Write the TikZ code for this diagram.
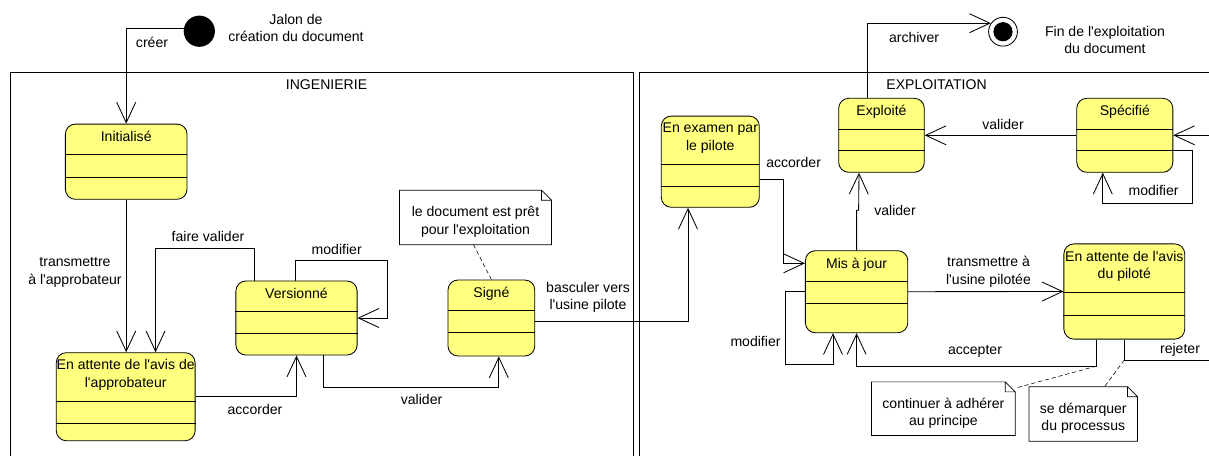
\documentclass[tikz,border=0pt]{standalone}
\usepackage{fontspec}
\setmainfont{Liberation Sans}
\usetikzlibrary{calc}
\usetikzlibrary{arrows.meta}
\definecolor{stateyellow}{HTML}{FFFF80}
\newcommand{\sq}{\textquotesingle}

\begin{document}
\begin{tikzpicture}[x=0.025cm, y=-0.025cm,
        font=\fontsize{10}{12.4}\selectfont, line width=0.6pt,
        state/.style={draw, fill=stateyellow, rounded corners=0.25cm, inner sep=0pt},
        title/.style={anchor=north, align=center, inner sep=0pt, yshift=-5pt},
        notebox/.style={inner sep=0pt},
        notetext/.style={anchor=center, align=center, inner sep=0pt, yshift=-3.2pt},
        lbl/.style={align=center, inner sep=1pt},
        trans/.style={-{Straight Barb[length=14.5pt, width=13.5pt]}},
        notelink/.style={densely dashed, line width=0.4pt}]
    \useasboundingbox (0,0) rectangle (1209,455);
    \clip (0,0) rectangle (1209,455);

    % partitions
    \draw (10.2,72.7) rectangle (633,470);
    \draw (639,72.7) rectangle (1230,470);
    \node[lbl] (ing) at (326.5,84.3) {INGENIERIE};
    \node[lbl] (exp) at (936.5,84.3) {EXPLOITATION};

    % start and end
    \node[circle, fill=black, minimum size=0.78cm, inner sep=0pt] (start) at (199.3,31.2) {};
    \node[circle, draw, minimum size=0.72cm, inner sep=0pt,
        path picture={\fill (path picture bounding box.center) circle (0.24cm);}] (end) at (1003,31.7) {};
    \node[lbl] (jalon) at (296,28) {Jalon de\\création du document};
    \node[lbl] (fin) at (1105,40) {Fin de l\sq exploitation\\du document};

    % states
    \node[state, minimum width=3.04cm, minimum height=1.88cm, label={[title]north:Initialisé}] (init) at (126.2,161.7) {};
    \node[state, minimum width=3.47cm, minimum height=2.2cm, label={[title]north:{En attente de l\sq avis de\\l\sq approbateur}}] (waitA) at (125.7,396.7) {};
    \node[state, minimum width=3.03cm, minimum height=1.85cm, label={[title]north:Versionné}] (vers) at (296.5,318) {};
    \node[state, minimum width=2.17cm, minimum height=1.9cm, label={[title]north:Signé}] (signe) at (491.4,318) {};
    \node[state, minimum width=2.45cm, minimum height=2.28cm, label={[title]north:{En examen par\\le pilote}}] (exam) at (710.3,161.7) {};
    \node[state, minimum width=2.14cm, minimum height=1.85cm, label={[title]north:Exploité}] (expl) at (881.5,135.3) {};
    \node[state, minimum width=2.4cm, minimum height=1.85cm, label={[title]north:Spécifié}] (spec) at (1124.8,135.3) {};
    \node[state, minimum width=2.56cm, minimum height=2.05cm, label={[title]north:Mis à jour}] (maj) at (856.6,291.7) {};
    \node[state, minimum width=3.02cm, minimum height=2.38cm, label={[title]north:{En attente de l\sq avis\\du piloté}}] (waitP) at (1124.3,291.5) {};

    \foreach \s/\a/\b in {init/31/54, waitA/49/71, vers/31/53, signe/31/53, exam/49/71,
                          expl/32/53, spec/32/53, maj/31/53, waitP/49/72}
        \draw ($(\s.north west)+(0,\a)$) -- ($(\s.north east)+(0,\a)$)
              ($(\s.north west)+(0,\b)$) -- ($(\s.north east)+(0,\b)$);

    % notes
    \node[notebox, minimum width=3.78cm, minimum height=1.34cm, label={[notetext]center:{le document est prêt\\pour l\sq exploitation}}] (note1) at (475.5,217.5) {};
    \node[notebox, minimum width=3.57cm, minimum height=1.32cm, label={[notetext]center:{continuer à adhérer\\au principe}}] (note2) at (943.4,408.7) {};
    \node[notebox, minimum width=2.69cm, minimum height=1.34cm, label={[notetext]center:{se démarquer\\du processus}}] (note3) at (1083.3,414) {};

    \foreach \n in {note1, note2, note3}
        \draw[line width=0.5pt] (\n.south west) -- (\n.north west) -- ($(\n.north east)+(-10,0)$)
              -- ($(\n.north east)+(0,10)$) -- (\n.south east) -- cycle
              ($(\n.north east)+(-10,0)$) |- ($(\n.north east)+(0,10)$);

    % transitions in INGENIERIE
    \draw[trans] (start.170) -| (init.north);
    \draw[trans] (init.south) -- (init.south |- waitA.north);
    \draw[trans] ($(vers.north west)+(19,0)$) -- ++(0,-31.7) -| ($(waitA.north west)+(99.7,0)$);
    \draw[trans] ($(vers.north west)+(60,0)$) -- ++(0,-20.3) -| ($(vers.east)+(29.5,0)$) -- (vers.east);
    \draw[trans] (waitA.east) -| (vers.south);
    \draw[trans] ($(vers.south)+(27.2,0)$) -- ++(0,32.3) -| ($(signe.south)+(7.4,0)$);
    \draw[trans] ($(signe.east)+(0,3)$) -| ($(exam.south)+(-22.3,0)$);
    \draw[notelink] (signe.north) -- ($(note1.south)+(-2,0)$);

    % transitions in EXPLOITATION
    \draw[trans] ($(exam.east)+(0,17.3)$) -- ++(23.3,0) |- ($(maj.west)+(0,-28.4)$);
    \draw[trans] (maj.north) -- ++(0,-40) -- ++(2,0) -- ($(expl.south)+(-22.5,0)$);
    \draw[trans] ($(expl.north)+(-14.1,0)$) |- (end.145);
    \draw[trans] (spec.west) -- (expl.east);
    \coordinate (specIn) at (1209,135.3);
    \draw[trans] (specIn) -- (spec.east);
    \draw[trans] ($(spec.east)+(0,15.4)$) -| ($(spec.east)+(19.2,68)$) -| ($(spec.south)+(-22,0)$);
    \draw[trans] (maj.east) -- (waitP.west);
    \draw[trans] (maj.west) -- ++(-19.6,0) |- ($(maj.south)+(-23.6,31.6)$) -- ($(maj.south)+(-23.6,0)$);
    \draw[trans] ($(waitP.south)+(-27.9,0)$) |- coordinate[pos=0.5] (accCorner) ($(maj.south)+(0,33)$) -- (maj.south);
    \coordinate (rejOut) at (1209,360);
    \draw (waitP.south) |- coordinate[pos=0.5] (rejCorner) (rejOut);
    \draw[notelink] (accCorner) -- ($(note2.north east)+(1,6)$);
    \draw[notelink] (rejCorner) -- ($(note3.north)+(21.2,0)$);

    % transition labels
    \node[lbl] (lCreer) at (152,42) {créer};
    \node[lbl] (lTransA) at (75,272.5) {transmettre\\à l\sq approbateur};
    \node[lbl] (lFaire) at (208,236.7) {faire valider};
    \node[lbl] (lModV) at (336.7,249.3) {modifier};
    \node[lbl] (lAccA) at (255,409.3) {accorder};
    \node[lbl] (lValS) at (421.6,399.3) {valider};
    \node[lbl] (lBasc) at (588,297.5) {basculer vers\\l\sq usine pilote};
    \node[lbl] (lArch) at (914,37.3) {archiver};
    \node[lbl] (lValE) at (1003,124.3) {valider};
    \node[lbl] (lAccE) at (793.6,162.7) {accorder};
    \node[lbl] (lValM) at (895,210.7) {valider};
    \node[lbl] (lModS) at (1153.6,190.7) {modifier};
    \node[lbl] (lTransP) at (988.5,271.7) {transmettre à\\l\sq usine pilotée};
    \node[lbl] (lModM) at (755.5,341) {modifier};
    \node[lbl] (lAcc) at (975,351) {accepter};
    \node[lbl] (lRej) at (1180,350) {rejeter};
\end{tikzpicture}
\end{document}
